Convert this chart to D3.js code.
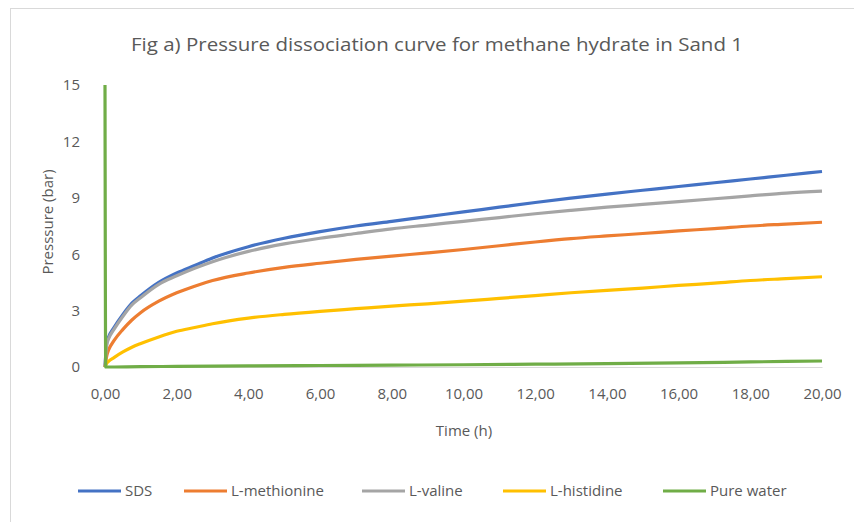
<!DOCTYPE html>
<html>
<head>
<meta charset="utf-8">
<script src="https://cdn.jsdelivr.net/npm/d3@7"></script>
<style>
  body { margin: 0; background: #fff; }
  text { font-family: "Open Sans", "Liberation Sans", sans-serif; fill: #595959; }
</style>
</head>
<body>
<div id="chart"></div>
<script>
// time (h) and pressure (bar)
const timeMain = [0, 0.05, 0.1, 0.25, 0.5, 0.75, 1, 1.5, 2, 2.5, 3, 4, 5, 6, 7, 8, 9, 10, 11, 12, 13, 14, 15, 16, 17, 18, 19, 20];
const sds        = [0, 1.3, 1.6, 2.1, 2.8, 3.4, 3.8, 4.5, 5.0, 5.4, 5.8, 6.4, 6.85, 7.2, 7.5, 7.75, 8.0, 8.25, 8.5, 8.75, 8.98, 9.2, 9.4, 9.6, 9.8, 10.0, 10.2, 10.4];
const methionine = [0, 0.6, 0.9, 1.4, 2.0, 2.5, 2.9, 3.5, 3.95, 4.3, 4.6, 5.0, 5.3, 5.52, 5.72, 5.9, 6.07, 6.25, 6.45, 6.65, 6.83, 6.97, 7.1, 7.24, 7.36, 7.5, 7.6, 7.7];
const valine     = [0, 1.2, 1.5, 2.0, 2.7, 3.3, 3.7, 4.4, 4.85, 5.25, 5.6, 6.15, 6.55, 6.85, 7.1, 7.35, 7.55, 7.75, 7.95, 8.15, 8.33, 8.5, 8.65, 8.8, 8.95, 9.1, 9.25, 9.35];
const histidine  = [0, 0.2, 0.3, 0.5, 0.8, 1.05, 1.25, 1.6, 1.9, 2.1, 2.3, 2.6, 2.8, 2.96, 3.1, 3.24, 3.36, 3.5, 3.65, 3.8, 3.95, 4.08, 4.2, 4.34, 4.46, 4.6, 4.7, 4.8];
const timeWater  = [0, 0.02, 1, 2, 4, 6, 8, 10, 12, 14, 16, 18, 20];
const pureWater  = [15, 0, 0.02, 0.03, 0.06, 0.08, 0.1, 0.12, 0.15, 0.18, 0.22, 0.27, 0.32];

const seriesNames = ["SDS", "L-methionine", "L-valine", "L-histidine", "Pure water"];
const seriesColors = ["#4472C4", "#ED7D31", "#A5A5A5", "#FFC000", "#70AD47"];
const yTicks = [0, 3, 6, 9, 12, 15];
const xTicks = [0, 2, 4, 6, 8, 10, 12, 14, 16, 18, 20];

const width = 854, height = 522;
const series = [
  { t: timeMain, v: sds },
  { t: timeMain, v: methionine },
  { t: timeMain, v: valine },
  { t: timeMain, v: histidine },
  { t: timeWater, v: pureWater }
].map((s, i) => ({
  name: seriesNames[i], color: seriesColors[i],
  points: s.t.map((t, j) => [t, s.v[j]])
}));

const svg = d3.select("#chart").append("svg")
  .attr("width", width).attr("height", height);

// chart area border
svg.append("rect")
  .attr("x", 10.5).attr("y", 8.5).attr("width", 870).attr("height", 530)
  .attr("fill", "none").attr("stroke", "#d9d9d9");

const x = d3.scaleLinear().domain([0, 20]).range([105, 822]);
const y = d3.scaleLinear().domain([0, 15]).range([367, 85]);

const comma = d3.formatLocale({ decimal: ",", thousands: ".", grouping: [3], currency: ["", ""] });

// x axis
const xAxis = svg.append("g")
  .attr("transform", `translate(0,${y(0)})`)
  .call(d3.axisBottom(x).tickValues(xTicks).tickFormat(comma.format(".2f")).tickSize(0).tickPadding(21));
xAxis.select(".domain").attr("stroke", "#d9d9d9");
xAxis.selectAll("text").attr("font-size", 15).attr("fill", "#595959");

// y axis
const yAxis = svg.append("g")
  .attr("transform", `translate(${x(0) - 17},0)`)
  .call(d3.axisLeft(y).tickValues(yTicks).tickSize(0).tickPadding(8));
yAxis.select(".domain").remove();
yAxis.selectAll("text").attr("font-size", 15).attr("fill", "#595959");

const line = d3.line()
  .x(d => x(d[0])).y(d => y(d[1]))
  .curve(d3.curveMonotoneX);

svg.append("g").selectAll("path")
  .data(series).join("path")
  .attr("d", d => line(d.points))
  .attr("fill", "none")
  .attr("stroke", d => d.color)
  .attr("stroke-width", 3.2)
  .attr("stroke-linejoin", "round");

// titles
svg.append("text")
  .attr("x", 437).attr("y", 51)
  .attr("text-anchor", "middle").attr("font-size", 19)
  .attr("textLength", 612).attr("lengthAdjust", "spacingAndGlyphs")
  .text("Fig a) Pressure dissociation curve for methane hydrate in Sand 1");

svg.append("text")
  .attr("x", 464).attr("y", 436)
  .attr("text-anchor", "middle").attr("font-size", 15)
  .text("Time (h)");

svg.append("text")
  .attr("transform", "translate(53,222) rotate(-90)")
  .attr("text-anchor", "middle").attr("font-size", 15)
  .text("Presssure (bar)");

// legend
const legendX = [78, 184, 362, 503, 663];
const legend = svg.append("g").selectAll("g")
  .data(series).join("g")
  .attr("transform", (d, i) => `translate(${legendX[i]},491)`);
legend.append("line")
  .attr("x1", 0).attr("x2", 43)
  .attr("stroke", d => d.color).attr("stroke-width", 3);
legend.append("text")
  .attr("x", 47).attr("dy", "0.35em").attr("font-size", 15)
  .text(d => d.name);
</script>
</body>
</html>
